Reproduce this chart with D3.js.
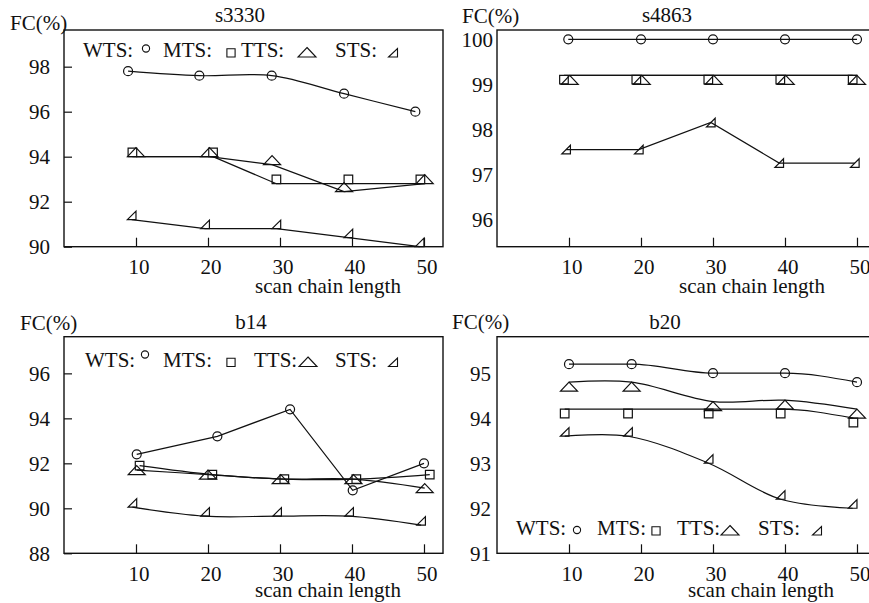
<!DOCTYPE html>
<html>
<head>
<meta charset="utf-8">
<script src="https://cdn.jsdelivr.net/npm/d3@7"></script>
<style>
  html, body { margin: 0; padding: 0; background: #fff; }
  svg { display: block; }
  svg text { font-family: "Liberation Serif", "Times New Roman", Times, serif; }
</style>
</head>
<body>
<svg id="chart" width="869" height="603"></svg>
<script>
// ---------- data ----------
const xTicks = [10, 20, 30, 40, 50];
const seriesNames = ["WTS", "MTS", "TTS", "STS"];
const circuitNames = ["s3330", "s4863", "b14", "b20"];

const yTicksS3330 = [90, 92, 94, 96, 98];
const yTicksS4863 = [96, 97, 98, 99, 100];
const yTicksB14 = [88, 90, 92, 94, 96];
const yTicksB20 = [91, 92, 93, 94, 95];

// s3330: scan chain length / fault coverage (%)
const s3330WtsX = [8.9, 18.8, 28.85, 38.9, 48.8];
const s3330Wts  = [97.8, 97.6, 97.6, 96.8, 96.0];
const s3330MtsX = [9.5, 20.7, 29.5, 39.5, 49.5];
const s3330Mts  = [94.0, 94.0, 92.8, 92.8, 92.8];
const s3330TtsX = [10.0, 20.2, 28.9, 38.9, 50.1];
const s3330Tts  = [94.0, 94.0, 93.65, 92.45, 92.8];
const s3330StsX = [9.4, 19.6, 29.5, 39.5, 49.4];
const s3330Sts  = [91.2, 90.8, 90.8, 90.4, 90.0];

// s4863
const s4863WtsX = [9.9, 20.0, 30.0, 40.0, 50.0];
const s4863Wts  = [100, 100, 100, 100, 100];
const s4863MtsX = [9.3, 19.35, 29.35, 39.35, 49.4];
const s4863Mts  = [99.2, 99.2, 99.2, 99.2, 99.2];
const s4863TtsX = [10.1, 20.1, 30.1, 40.1, 50.0];
const s4863Tts  = [99.2, 99.2, 99.2, 99.2, 99.2];
const s4863StsX = [9.6, 19.7, 29.7, 39.2, 49.7];
const s4863Sts  = [97.55, 97.55, 98.15, 97.25, 97.25];

// b14
const b14WtsX = [10.1, 21.3, 31.4, 40.1, 50.0];
const b14Wts  = [92.4, 93.2, 94.4, 90.8, 92.0];
const b14MtsX = [10.5, 20.6, 30.6, 40.6, 50.8];
const b14Mts  = [91.9, 91.5, 91.3, 91.3, 91.5];
const b14TtsX = [10.1, 20.0, 30.1, 40.2, 50.1];
const b14Tts  = [91.7, 91.5, 91.3, 91.3, 90.9];
const b14StsX = [9.5, 19.6, 29.6, 39.6, 49.6];
const b14Sts  = [90.05, 89.65, 89.65, 89.65, 89.25];

// b20
const b20WtsX = [10.0, 18.7, 30.0, 40.0, 50.0];
const b20Wts  = [95.2, 95.2, 95.0, 95.0, 94.8];
const b20MtsX = [9.4, 18.2, 29.4, 39.4, 49.5];
const b20Mts  = [94.2, 94.2, 94.2, 94.2, 94.0];
const b20TtsX = [10.0, 18.7, 30.0, 40.0, 50.0];
const b20Tts  = [94.8, 94.8, 94.37, 94.4, 94.2];
const b20StsX = [9.4, 18.2, 29.4, 39.4, 49.4];
const b20Sts  = [93.6, 93.6, 93.0, 92.2, 92.0];

const panelData = [
  { title: circuitNames[0], yTicks: yTicksS3330,
    xs: [s3330WtsX, s3330MtsX, s3330TtsX, s3330StsX], ys: [s3330Wts, s3330Mts, s3330Tts, s3330Sts] },
  { title: circuitNames[1], yTicks: yTicksS4863,
    xs: [s4863WtsX, s4863MtsX, s4863TtsX, s4863StsX], ys: [s4863Wts, s4863Mts, s4863Tts, s4863Sts] },
  { title: circuitNames[2], yTicks: yTicksB14,
    xs: [b14WtsX, b14MtsX, b14TtsX, b14StsX], ys: [b14Wts, b14Mts, b14Tts, b14Sts] },
  { title: circuitNames[3], yTicks: yTicksB20,
    xs: [b20WtsX, b20MtsX, b20TtsX, b20StsX], ys: [b20Wts, b20Mts, b20Tts, b20Sts] }
];

// ---------- layout & style ----------
const FONT = 21;
const INK = "#111";
const curves = { lin: d3.curveLinear, cr: d3.curveCatmullRom.alpha(0.5), mono: d3.curveMonotoneX };

const layout = [
  { left: 64, top: 30, bottom: 246.7, yDomain: [90, 99.63], tickLabelGap: 14, yTickLen: 8,
    tickLabelDy: 27.5, titleX: 240, titleY: 22, fcX: 10, fcY: 30, xlabX: 328, xlabY: 293,
    curve: ["cr", "lin", "lin", "lin"], anchor: ["c", "b", "b", "b"],
    legend: { y: 57, circleDy: -8.5, items: [[83, 146], [163, 231], [241, 307], [335, 393]] } },
  { left: 497, top: 30, bottom: 246.7, yDomain: [95.39, 100.207], tickLabelGap: 4, yTickLen: 0,
    tickLabelDy: 27.5, titleX: 667, titleY: 22, fcX: 462, fcY: 23, xlabX: 752, xlabY: 293,
    curve: ["lin", "lin", "lin", "lin"], anchor: ["c", "t", "t", "c"], legend: null },
  { left: 64, top: 336.7, bottom: 553.3, yDomain: [88, 97.63], tickLabelGap: 14, yTickLen: 8,
    tickLabelDy: 27.5, titleX: 251, titleY: 328.5, fcX: 20, fcY: 330, xlabX: 328, xlabY: 597,
    curve: ["lin", "cr", "cr", "cr"], anchor: ["c", "c", "c", "b"],
    legend: { y: 366.5, circleDy: -12, items: [[85, 145], [163, 231], [254, 308], [335, 393]] } },
  { left: 497, top: 336.7, bottom: 553.3, yDomain: [91, 95.81], tickLabelGap: 6, yTickLen: 0,
    tickLabelDy: 27.5, titleX: 665, titleY: 328.5, fcX: 452, fcY: 329, xlabX: 761, xlabY: 597,
    curve: ["mono", "mono", "cr", "cr"], anchor: ["c", "t", "t", "b"],
    legend: { y: 535, circleDy: -5, items: [[516, 577], [597, 656], [677, 730], [758, 817]] } }
];

const PANEL_W = 379;
const X_MAX = 52.64;

// marker glyphs, centred on (0,0); h is the glyph height
const markers = {
  WTS: r => ({ d: `M${-r},0a${r},${r} 0 1,0 ${2 * r},0a${r},${r} 0 1,0 ${-2 * r},0Z`, h: 2 * r }),
  MTS: s => ({ d: `M${-s / 2},${-s / 2}h${s}v${s}h${-s}Z`, h: s }),
  TTS: ([w, h]) => ({ d: `M0,${-h / 2}L${w / 2},${h / 2}L${-w / 2},${h / 2}Z`, h }),
  STS: ([w, h]) => ({ d: `M${-w / 2},${h / 2}L${w / 2},${h / 2}L${w / 2},${-h / 2}Z`, h })
};
const plotSize = { WTS: 4.5, MTS: 8.6, TTS: [17, 9], STS: [8.6, 8.6] };
const legendSize = { WTS: 3.6, MTS: 8.2, TTS: [18, 9.5], STS: [9, 8.5] };

const svg = d3.select("#chart");
svg.append("rect").attr("width", 869).attr("height", 603).attr("fill", "#fff");

panelData.forEach((p, i) => {
  const L = layout[i];
  const right = L.left + PANEL_W;
  const x = d3.scaleLinear().domain([0, X_MAX]).range([L.left, right]);
  const y = d3.scaleLinear().domain(L.yDomain).range([L.bottom, L.top]);
  const g = svg.append("g");

  // frame
  g.append("rect")
    .attr("x", L.left).attr("y", L.top)
    .attr("width", right - L.left).attr("height", L.bottom - L.top)
    .attr("fill", "none").attr("stroke", INK).attr("stroke-width", 1.4);

  // x axis: ticks point up into the plot
  const xAxis = d3.axisTop(x).tickValues(xTicks).tickSize(9).tickFormat("");
  const xg = g.append("g").attr("transform", `translate(0,${L.bottom})`).call(xAxis);
  xg.select(".domain").remove();
  xg.selectAll("line").attr("stroke", INK).attr("stroke-width", 1.2);

  g.selectAll(".xlab").data(xTicks).join("text")
    .attr("x", d => x(d) + 3).attr("y", L.bottom + L.tickLabelDy)
    .attr("text-anchor", "middle").attr("font-size", FONT).attr("fill", INK)
    .text(d => d);

  // y axis: ticks point right into the plot
  const yAxis = d3.axisRight(y).tickValues(p.yTicks).tickSize(L.yTickLen).tickFormat("");
  const yg = g.append("g").attr("transform", `translate(${L.left},0)`).call(yAxis);
  yg.select(".domain").remove();
  yg.selectAll("line").attr("stroke", INK).attr("stroke-width", 1.2);

  g.selectAll(".ylab").data(p.yTicks).join("text")
    .attr("x", L.left - L.tickLabelGap).attr("y", d => y(d))
    .attr("dy", "0.35em").attr("text-anchor", "end")
    .attr("font-size", FONT).attr("fill", INK)
    .text(d => d);

  // titles and axis captions
  g.append("text").attr("x", L.titleX).attr("y", L.titleY).attr("text-anchor", "middle")
    .attr("font-size", FONT).attr("fill", INK).text(p.title);
  g.append("text").attr("x", L.fcX).attr("y", L.fcY)
    .attr("font-size", FONT).attr("fill", INK).text("FC(%)");
  g.append("text").attr("x", L.xlabX).attr("y", L.xlabY).attr("text-anchor", "middle")
    .attr("font-size", FONT).attr("fill", INK).text("scan chain length");

  // series lines and markers
  seriesNames.forEach((name, k) => {
    const pts = p.xs[k].map((xv, j) => [xv, p.ys[k][j]]);
    const line = d3.line().x(d => x(d[0])).y(d => y(d[1])).curve(curves[L.curve[k]]);
    g.append("path").attr("d", line(pts))
      .attr("fill", "none").attr("stroke", INK).attr("stroke-width", 1.2);

    const m = markers[name](plotSize[name]);
    const a = L.anchor[k];
    const dy = a === "b" ? -m.h / 2 : a === "t" ? m.h / 2 : 0;
    g.selectAll(null).data(pts).join("path")
      .attr("d", m.d)
      .attr("transform", d => `translate(${x(d[0])},${y(d[1]) + dy})`)
      .attr("fill", "none").attr("stroke", INK).attr("stroke-width", 1.2);
  });

  // legend
  if (L.legend) {
    seriesNames.forEach((name, k) => {
      const [tx, mx] = L.legend.items[k];
      g.append("text").attr("x", tx).attr("y", L.legend.y)
        .attr("font-size", FONT).attr("fill", INK).text(name + ":");
      const m = markers[name](legendSize[name]);
      const my = name === "WTS" ? L.legend.y + L.legend.circleDy : L.legend.y - m.h / 2;
      g.append("path").attr("d", m.d)
        .attr("transform", `translate(${mx},${my})`)
        .attr("fill", "none").attr("stroke", INK).attr("stroke-width", 1.1);
    });
  }
});
</script>
</body>
</html>
